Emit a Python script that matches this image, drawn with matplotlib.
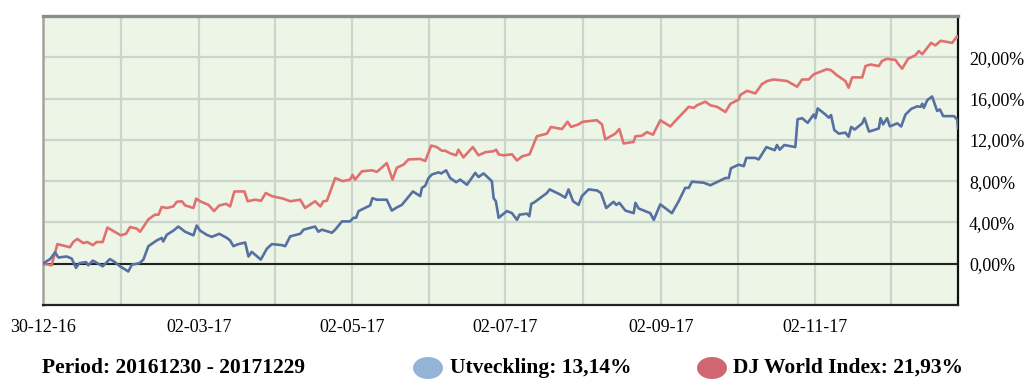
import matplotlib
matplotlib.use("Agg")
import matplotlib.pyplot as plt
from matplotlib.patches import Ellipse
import numpy as np
import pandas as pd

# ---- data (days since 30-12-16, cumulative return in %) ----
start_date = "30-12-16"
end_days = 364

dj_days = [0, 3.5, 5.8, 10.8, 12.1, 13.7, 16.1, 17.7, 19.9, 21.4, 23.8, 25.7, 31, 33.1, 34.7, 37.4, 38.7,
           42, 44.6, 46, 47.3, 49.3, 51.9, 53.3, 55.3, 56.6, 59.9, 61, 62.6, 65.9, 68.1, 70.2, 72.9, 74.5,
           76.2, 80.2, 81.5, 84.4, 86.8, 88.7, 91.1, 95.7, 98.4, 102.4, 104.3, 108.3, 110.4, 111.6, 113,
           116.3, 119.3, 122.2, 123.2, 124.2, 126.9, 130.9, 132.9, 136.8, 139.1, 140.8, 143.5, 145.4,
           150.1, 152.1, 154.5, 156.7, 158.7, 160, 162, 164.4, 165.3, 167.3, 171, 173.3, 175.9, 179.3,
           180.3, 181.3, 183.2, 186.6, 188.6, 190.6, 193.6, 196.5, 200.5, 202.1, 206.5, 208.7, 210.1,
           213.1, 214.7, 220.4, 222.4, 223.7, 227.7, 229.3, 231, 235, 235.7, 238.3, 240.3, 242.7, 245.6,
           249.6, 252.2, 256.9, 258.9, 260.2, 263.5, 265.5, 268.2, 271.5, 273.5, 276.8, 277.4, 280.1,
           283.4, 286, 288.1, 290.7, 296, 300, 302, 304.6, 306.6, 311.9, 313.5, 315.9, 319.2, 320.5,
           321.9, 325.9, 327.2, 329.2, 332.5, 333.8, 335.8, 339.1, 340.4, 341.8, 344.1, 347.1, 348.4,
           349.8, 353.3, 355, 357.1, 361.7, 363.7, 364]
dj_vals = [0, -0.15, 1.9, 1.6, 2.1, 2.4, 2.0, 2.1, 1.8, 2.1, 2.1, 3.5, 2.75, 2.9, 3.55, 3.4, 3.1,
           4.3, 4.75, 4.75, 5.5, 5.4, 5.55, 6.0, 6.05, 5.65, 5.4, 6.3, 6.05, 5.7, 5.1, 5.65, 5.8, 5.55,
           7.0, 7.0, 6.05, 6.2, 6.1, 6.85, 6.55, 6.3, 6.05, 6.2, 5.4, 6.05, 5.55, 6.05, 6.1,
           8.3, 8.0, 8.15, 8.6, 8.15, 8.95, 9.05, 8.9, 9.75, 8.15, 9.3, 9.6, 10.1,
           10.15, 9.95, 11.45, 11.3, 10.95, 10.95, 10.7, 10.5, 11.05, 10.3, 11.3, 10.5, 10.8, 10.9,
           11.05, 10.6, 10.5, 10.6, 10.0, 10.4, 10.6, 12.35, 12.6, 13.25, 13.05, 13.75, 13.25,
           13.5, 13.75, 13.9, 13.5, 12.05, 12.6, 13.05, 11.65, 11.8, 12.35, 12.4, 12.75, 12.5, 13.9,
           13.3, 14.0, 15.2, 15.1, 15.35, 15.7, 15.35, 15.2, 14.7, 15.5, 15.9, 16.35, 16.75,
           16.5, 17.4, 17.7, 17.85, 17.7, 17.15, 17.85, 17.85, 18.35, 18.85, 18.75, 18.25, 17.7, 17.05,
           18.05, 18.05, 19.15, 19.3, 19.15, 19.65, 19.85, 19.75, 19.3, 18.9, 19.85, 20.2, 20.6,
           20.3, 21.4, 21.15, 21.6, 21.4, 22.05, 21.93]

fund_days = [0, 2.9, 4.9, 6.2, 9.5, 11.5, 13.2, 14.5, 17.2, 18.1, 19.9, 23.8, 26.7, 28.7, 30.7, 34, 35.4,
             38.4, 40, 42, 45.3, 47.3, 47.9, 49.3, 51.9, 53.9, 56.6, 59.9, 61.2, 62.6, 65.2, 67.2, 70.2,
             73.2, 74.5, 75.8, 77.8, 80.5, 81.8, 83.1, 86.7, 89.1, 91.1, 95.1, 96.4, 98.4, 102.4, 103.7,
             108.3, 109.6, 111, 115, 116.3, 119, 122.2, 123.6, 124.6, 125.6, 130.2, 131.1, 132.9, 136.8,
             138.8, 140.8, 142.8, 147.2, 150.1, 150.8, 152.1, 153.4, 154.8, 157.4, 158.5, 160.4, 162,
             164.4, 166, 168.7, 172, 173.3, 175.3, 178.6, 179.3, 180.2, 181.3, 184.6, 186.6, 188.6, 189.6,
             192.6, 193.5, 194.3, 195.5, 200.5, 201.6, 205.8, 207.8, 209.1, 210.9, 213.1, 214.4, 217.1,
             220.4, 222, 224.1, 227, 228.1, 229.3, 231.7, 235, 235.7, 237, 239.6, 241.6, 243, 245.6,
             250.2, 252.9, 255.5, 256.9, 258.2, 262.8, 265.5, 271.5, 272.8, 273.7, 276.8, 278.8, 279.8,
             283.4, 284.7, 287.8, 291.1, 292, 293.1, 294.9, 299.3, 300.2, 302, 304.2, 306.6, 307.3, 308.2,
             311.3, 312.6, 313.5, 314.8, 316.6, 319.2, 320.5, 321.5, 322.9, 325.9, 326.8, 328.6, 332.5,
             333.2, 334.2, 335.8, 336.9, 339.8, 341.4, 343.1, 345.4, 347.8, 349.1, 349.8, 350.4, 351.8,
             353.7, 355.7, 356.8, 358.1, 362.4, 363.7, 364]
fund_vals = [0, 0.45, 1.1, 0.6, 0.7, 0.5, -0.4, 0.05, 0.15, -0.15, 0.3, -0.25, 0.45, 0.15, -0.25, -0.75, -0.1,
             0.05, 0.4, 1.7, 2.25, 2.5, 2.15, 2.8, 3.2, 3.6, 3.1, 2.75, 3.7, 3.2, 2.8, 2.6, 2.9,
             2.5, 2.25, 1.7, 1.9, 2.05, 0.7, 1.15, 0.4, 1.45, 1.9, 1.8, 1.7, 2.65, 2.9, 3.3,
             3.6, 3.1, 3.3, 3.0, 3.3, 4.1, 4.1, 4.45, 4.45, 5.1, 5.65, 6.35, 6.2, 6.2,
             5.15, 5.45, 5.7, 7.0, 6.55, 7.35, 7.55, 8.3, 8.65, 8.85, 8.75, 9.05, 8.3,
             7.9, 8.15, 7.65, 8.8, 8.4, 8.75, 8.0, 6.35, 6.05, 4.45, 5.1, 4.9, 4.25, 4.75,
             4.85, 4.6, 5.8, 5.95, 6.85, 7.2, 6.7, 6.4, 7.2, 6.05, 5.7, 6.55, 7.2,
             7.1, 6.85, 5.4, 6.0, 5.7, 5.9, 5.15, 4.9, 5.9, 5.35, 5.1, 4.9, 4.25, 5.75,
             4.9, 6.05, 7.35, 7.35, 7.95, 7.85, 7.6, 8.3, 8.3, 9.25, 9.6, 9.45, 10.25,
             10.25, 10.1, 11.3, 11.0, 11.5, 11.05, 11.5, 11.3, 14.0, 14.1, 13.65, 14.45, 14.1, 15.05,
             14.45, 14.15, 14.4, 12.95, 12.6, 12.7, 12.3, 13.25, 13.0, 13.6, 14.1, 12.8, 13.1,
             14.1, 13.5, 14.1, 13.3, 13.6, 13.3, 14.45, 15.0, 15.25, 15.2, 15.5, 15.1, 15.85,
             16.2, 14.8, 14.95, 14.3, 14.3, 13.95, 13.14]

x_tick_labels = ["30-12-16", "02-03-17", "02-05-17", "02-07-17", "02-09-17", "02-11-17"]
y_tick_vals = [0, 4, 8, 12, 16, 20]
y_tick_labels = ["0,00%", "4,00%", "8,00%", "12,00%", "16,00%", "20,00%"]

period_text = "Period: 20161230 - 20171229"
fund_label = "Utveckling: 13,14%"
dj_label = "DJ World Index: 21,93%"

# ---- styling ----
SERIF = ["Liberation Serif", "DejaVu Serif"]
bg = "#EDF5E6"
grid_c = "#C9D6CC"
red_c = "#E0716E"
blue_c = "#5670A2"

W, H = 1036, 391
fig = plt.figure(figsize=(W / 100, H / 100), dpi=100)
fig.patch.set_facecolor("white")
ax = fig.add_axes([42.8 / W, 1 - 305 / H, (958 - 42.8) / W, (305 - 16) / H])
ax.set_facecolor(bg)

ax.plot(dj_days, dj_vals, color=red_c, lw=1.9, zorder=4, solid_joinstyle="round")
ax.plot(fund_days, fund_vals, color=blue_c, lw=1.9, zorder=5, solid_joinstyle="round")
ax.axhline(0, color="#222222", lw=1.5, zorder=3)

ax.set_xlim(0, end_days)
ax.set_ylim(-4, 24)

start = pd.to_datetime(start_date, format="%d-%m-%y")
major_x = [(pd.to_datetime(t, format="%d-%m-%y") - start).days for t in x_tick_labels]
minor_x = [(a + b) / 2 for a, b in zip(major_x[:-1], major_x[1:])]
minor_x.append(major_x[-1] + (major_x[-1] - major_x[-2]) / 2)
ax.set_xticks(major_x)
ax.set_xticklabels(x_tick_labels, fontfamily=SERIF, fontsize=13)
ax.set_xticks(minor_x, minor=True)
ax.tick_params(axis="x", which="both", length=0, pad=10)

ax.yaxis.tick_right()
ax.set_yticks(y_tick_vals)
ax.set_yticklabels(y_tick_labels, fontfamily=SERIF, fontsize=13)
ax.tick_params(axis="y", length=0, pad=8)

ax.grid(True, which="both", color=grid_c, lw=1.6, zorder=1)
ax.set_axisbelow(True)

ax.spines["top"].set_color("#8C8C8C")
ax.spines["top"].set_linewidth(2.4)
ax.spines["left"].set_color("#A3A3A3")
ax.spines["left"].set_linewidth(1.8)
ax.spines["right"].set_color("#111111")
ax.spines["right"].set_linewidth(1.6)
ax.spines["bottom"].set_color("#222222")
ax.spines["bottom"].set_linewidth(1.6)

# ---- bottom legend ----
ly = 1 - 368 / H
fig.text(41.7 / W, ly, period_text, fontfamily=SERIF, fontsize=15.5, fontweight="bold",
         ha="left", va="center")
fig.add_artist(Ellipse((428 / W, ly), 30 / W, 22 / H, transform=fig.transFigure,
                       facecolor="#93B3D7", edgecolor="none"))
fig.text(450 / W, ly, fund_label, fontfamily=SERIF, fontsize=15.5, fontweight="bold",
         ha="left", va="center")
fig.add_artist(Ellipse((712 / W, ly), 30 / W, 22 / H, transform=fig.transFigure,
                       facecolor="#CF6670", edgecolor="none"))
fig.text(733 / W, ly, dj_label, fontfamily=SERIF, fontsize=15.5, fontweight="bold",
         ha="left", va="center")

fig.savefig("out.png", dpi=100, facecolor="white")
